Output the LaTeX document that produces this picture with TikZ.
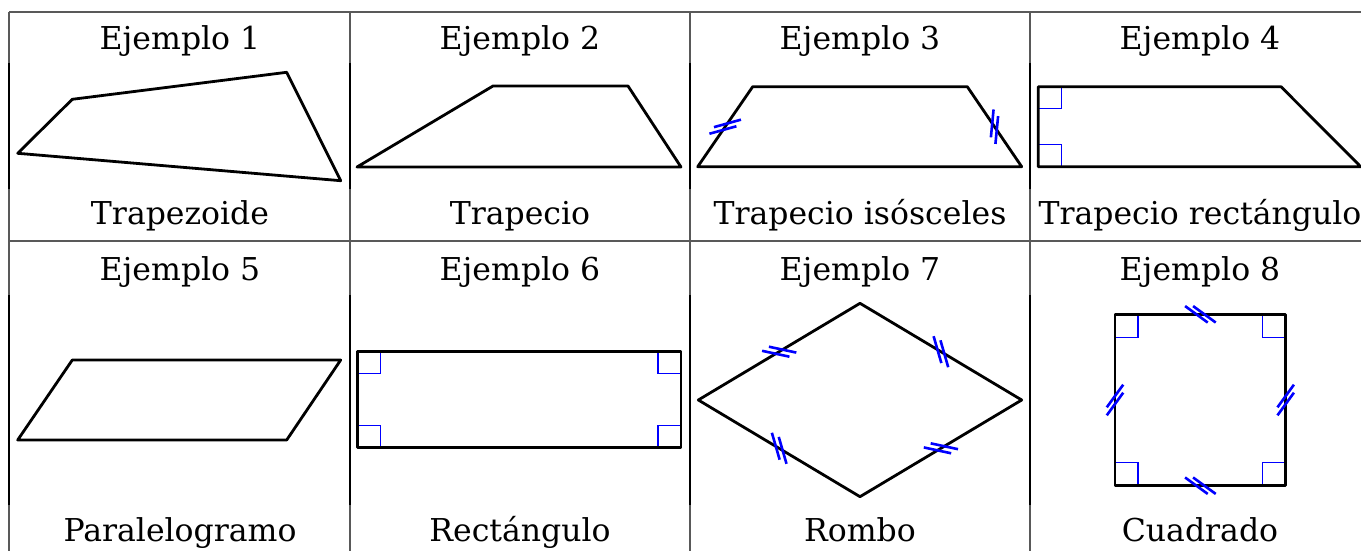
\documentclass[tikz,border=0pt]{standalone}
\usepackage{fontspec}
\setmainfont{DejaVu Serif}
\usetikzlibrary{calc}
\newcommand{\marcados}[3]{
  \draw[marca] ($(#1)+(#2:-4)+(#3:-14)$) -- ++(#3:28);
  \draw[marca] ($(#1)+(#2:4)+(#3:-14)$) -- ++(#3:28);
}
\begin{document}
\begin{tikzpicture}[x=0.5pt, y=-0.5pt,
    rejilla/.style={black!65, line width=0.6pt},
    borde/.style={black, line width=1pt},
    figura/.style={black, line width=1.4pt, line join=round},
    marca/.style={blue, line width=1.3pt},
    recto/.style={blue, line width=0.6pt},
    texto/.style={anchor=base, inner sep=0pt, font=\fontsize{15.75}{19}\selectfont}]
            \useasboundingbox (0,0) rectangle (1361,551);
            \clip (0,0) rectangle (1361,551);
            \draw[rejilla] (9,12) -- (1375,12);
            \draw[rejilla] (9,241) -- (1375,241);
            \draw[rejilla] (9,12) -- (9,560);
            \draw[rejilla] (350,12) -- (350,560);
            \draw[rejilla] (690,12) -- (690,560);
            \draw[rejilla] (1030,12) -- (1030,560);
            \draw[borde] (9,63) -- (9,189) (350,63) -- (350,189) (690,63) -- (690,189) (1030,63) -- (1030,189);
            \draw[borde] (9,295) -- (9,505) (350,295) -- (350,505) (690,295) -- (690,505) (1030,295) -- (1030,505);

            \node[texto] (e1) at (180,50) {Ejemplo 1};
            \node[texto] (e2) at (520,50) {Ejemplo 2};
            \node[texto] (e3) at (860,50) {Ejemplo 3};
            \node[texto] (e4) at (1200,50) {Ejemplo 4};
            \node[texto] (n1) at (180,225) {Trapezoide};
            \node[texto] (n2) at (520,225) {Trapecio};
            \node[texto] (n3) at (860,225) {Trapecio isósceles};
            \node[texto] (n4) at (1200,225) {Trapecio rectángulo};
            \node[texto] (e5) at (180,280) {Ejemplo 5};
            \node[texto] (e6) at (520,280) {Ejemplo 6};
            \node[texto] (e7) at (860,280) {Ejemplo 7};
            \node[texto] (e8) at (1200,280) {Ejemplo 8};
            \node[texto] (n5) at (180,541.7) {Paralelogramo};
            \node[texto] (n6) at (520,541.7) {Rectángulo};
            \node[texto] (n7) at (860,541.7) {Rombo};
            \node[texto] (n8) at (1200,541.7) {Cuadrado};

            \draw[recto] (1038.3,86.7) rectangle ++(23,22);
            \draw[recto] (1038.3,166.7) rectangle ++(23,-22);
            \draw[recto] (357.7,351.7) rectangle ++(23,22);
            \draw[recto] (681,351.7) rectangle ++(-23,22);
            \draw[recto] (357.7,447.7) rectangle ++(23,-22);
            \draw[recto] (681,447.7) rectangle ++(-23,-22);
            \draw[recto] (1115,314.3) rectangle ++(23,23);
            \draw[recto] (1285.7,314.3) rectangle ++(-23,23);
            \draw[recto] (1115,485.7) rectangle ++(23,-23);
            \draw[recto] (1285.7,485.7) rectangle ++(-23,-23);

            \draw[figura] (17.7,153.3) -- (72.3,99.3) -- (286.7,72.3) -- (340.7,180.7) -- cycle;
            \draw[figura] (357,167) -- (493,86) -- (628,86) -- (681,167) -- cycle;
            \draw[figura] (697.7,166.7) -- (752.7,86.7) -- (967.3,86.7) -- (1021.7,166.7) -- cycle;
            \draw[figura] (1038.3,86.7) -- (1281,86.7) -- (1360.7,166.7) -- (1038.3,166.7) -- cycle;
            \draw[figura] (17.7,440) -- (72.3,360) -- (340.7,360) -- (286.7,440) -- cycle;
            \draw[figura] (357.7,351.7) rectangle (681,447.7);
            \draw[figura] (698.3,400) -- (860,303.3) -- (1021.7,400) -- (860,496.7) -- cycle;
            \draw[figura] (1115,314.3) rectangle (1285.7,485.7);

            \marcados{725.2,126.7}{-55.5}{-15.5}
            \marcados{994.5,126.7}{55.5}{95.5}
            \marcados{779.2,351.7}{-30.9}{12.1}
            \marcados{940.9,351.7}{30.9}{73.9}
            \marcados{779.2,448.3}{30.9}{73.9}
            \marcados{940.9,448.3}{-30.9}{12.1}
            \marcados{1200.4,314.3}{0}{36}
            \marcados{1200.4,485.7}{0}{36}
            \marcados{1115,400}{90}{126}
            \marcados{1285.7,400}{90}{126}
\end{tikzpicture}
\end{document}
